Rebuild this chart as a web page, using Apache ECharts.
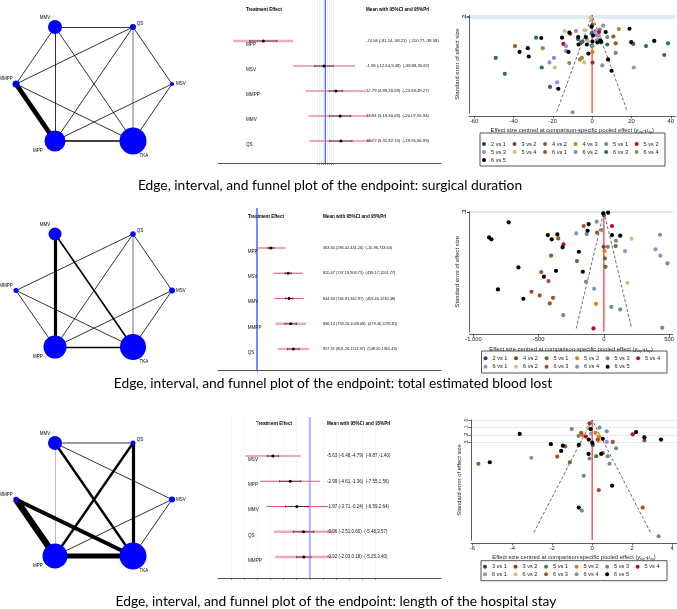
<!DOCTYPE html>
<html>
<head>
<meta charset="utf-8">
<script src="https://cdn.jsdelivr.net/npm/echarts@6/dist/echarts.min.js"></script>
<style>
html, body { margin: 0; padding: 0; background: #fff; }
#main { width: 677px; height: 609px; }
</style>
</head>
<body>
<div id="main"></div>
<script>
// ---------- network plots ----------
// hexagon order, starting on the right and going clockwise on screen
var TREATMENTS = ['MSV', 'TKA', 'MPP', 'MMPP', 'MMV', 'QS'];
var NODE_SIZE_1 = [4, 27, 21, 7, 14, 6];
var NODE_SIZE_2 = [6, 26, 23, 5, 13, 5.5];
var NODE_SIZE_3 = [6, 27, 25, 5.5, 14, 5];

var EDGES_1 = [['MMV', 'QS', 1], ['MMV', 'MMPP', 1], ['MMV', 'MPP', 1], ['MMV', 'TKA', 1], ['QS', 'MMPP', 1], ['QS', 'MPP', 1],
    ['QS', 'TKA', 2], ['QS', 'MSV', 1], ['MMPP', 'MPP', 6], ['MMPP', 'TKA', 1], ['MSV', 'MPP', 1], ['MSV', 'TKA', 1], ['MPP', 'TKA', 2]];
var EDGES_2 = [['MMV', 'MPP', 4], ['MMV', 'TKA', 2], ['QS', 'MMPP', 1], ['QS', 'MPP', 1], ['QS', 'TKA', 2], ['QS', 'MSV', 1],
    ['MMPP', 'MPP', 1], ['MMPP', 'TKA', 1], ['MSV', 'MPP', 1], ['MSV', 'TKA', 1], ['MPP', 'TKA', 2]];
var EDGES_3 = [['MMV', 'QS', 1], ['MMV', 'MPP', 1], ['MMV', 'TKA', 3], ['MMV', 'MSV', 1], ['QS', 'MPP', 3], ['QS', 'TKA', 4],
    ['MMPP', 'MPP', 8], ['MMPP', 'TKA', 5], ['MSV', 'MPP', 1], ['MSV', 'TKA', 1], ['MPP', 'TKA', 6]];

// ---------- interval plots ----------
var FOREST_NAMES_1 = ['MPP', 'MSV', 'MMPP', 'MMV', 'QS'];
var FOREST_MEAN_1 = [-74.66, -1.58, 12.79, 17.94, 18.72];
var FOREST_CI_LO_1 = [-91.14, -12.64, 4.89, 5.19, 5.31];
var FOREST_CI_HI_1 = [-58.21, 9.48, 20.69, 30.69, 32.13];
var FOREST_PI_LO_1 = [-110.77, -38.98, -23.69, -20.07, -19.55];
var FOREST_PI_HI_1 = [-38.58, 35.82, 49.27, 55.94, 56.99];

var FOREST_NAMES_2 = ['MPP', 'MSV', 'MMV', 'MMPP', 'QS'];
var FOREST_MEAN_2 = [363.84, 820.47, 844.94, 886.14, 957.31];
var FOREST_CI_LO_2 = [286.42, 737.19, 746.91, 733.20, 801.26];
var FOREST_CI_HI_2 = [441.26, 903.75, 942.97, 1039.08, 1113.37];
var FOREST_PI_LO_2 = [-15.96, 439.17, 459.40, 479.46, 549.20];
var FOREST_PI_HI_2 = [743.64, 1201.77, 1230.48, 1292.81, 1365.43];

var FOREST_NAMES_3 = ['MSV', 'MPP', 'MMV', 'QS', 'MMPP'];
var FOREST_MEAN_3 = [-5.63, -2.99, -1.97, -0.96, -0.92];
var FOREST_CI_LO_3 = [-6.48, -4.61, -3.71, -2.51, -2.03];
var FOREST_CI_HI_3 = [-4.79, -1.36, -0.24, 0.60, 0.18];
var FOREST_PI_LO_3 = [-9.87, -7.55, -6.59, -5.48, -5.25];
var FOREST_PI_HI_3 = [-1.40, 1.56, 2.64, 3.57, 3.40];

// ---------- funnel plots ----------
var FUNNEL_COMPS_1 = ['2 vs 1', '3 vs 2', '4 vs 2', '4 vs 3', '5 vs 1', '5 vs 2', '5 vs 3', '5 vs 4', '6 vs 1', '6 vs 2', '6 vs 3', '6 vs 4', '6 vs 5'];
var FUNNEL_PTS_1 = [
    [[-0.2, 2.9]],
    [[0.2, 4.5]],
    [[0.2, 0.9]],
    [[0.2, 3.5]],
    [[3.9, 1.36], [7.7, 2.07], [12.0, 3.58]],
    [[-14.6, 2.73], [3.5, 1.59]],
    [[-21.7, 4.49], [-19.4, 4.06], [-17.8, 6.39], [-13.3, 2.93], [-13.3, 3.41], [-9.9, 9.23], [-8.2, 1.5], [-2.7, 2.3],
        [1.5, 1.5], [2.2, 1.88], [2.4, 2.36], [3.5, 1.99], [5.6, 0.99], [21.2, 4.97]],
    [[-19.0, 4.97], [-14.0, 1.5], [-4.0, 4.49], [-3.9, 1.42], [-2.0, 2.5], [-0.7, 0.23], [4.0, 2.22]],
    [[-39.2, 2.93], [-11.1, 1.76], [-5.7, 2.59], [10.8, 2.02], [12.0, 2.67]],
    [[0.2, 2.93], [5.2, 4.77]],
    [[-49.0, 4.06], [-44.4, 5.57], [-28.5, 2.13], [-25.6, 4.97], [-21.4, 6.82], [-7.1, 2.27], [-4.9, 2.5], [-0.2, 1.7],
        [4.7, 2.59], [7.7, 2.78], [20.9, 2.73], [27.4, 2.93], [36.7, 3.78], [38.6, 2.67]],
    [[-25.1, 3.13], [-11.6, 4.55], [-6.2, 4.2], [-5.2, 4.06], [13.6, 1.31]],
    [[-36.9, 3.49], [-32.7, 3.13], [-32.2, 3.92], [-25.9, 2.16], [-17.2, 6.99], [-15.3, 2.13], [-12.0, 3.49], [-11.6, 1.65],
        [-7.1, 2.07], [-6.9, 2.78], [-3.2, 2.07], [-2.7, 2.78], [-1.9, 3.64], [-0.3, 1.08], [0.2, 2.5], [0.5, 1.93],
        [2.7, 2.59], [4.2, 2.41], [4.5, 2.5], [6.9, 1.59], [8.1, 4.2], [9.9, 5.28], [19.0, 1.28], [19.9, 2.56], [31.6, 2.44]]
];

var FUNNEL_COMPS_2 = ['2 vs 1', '4 vs 2', '5 vs 1', '5 vs 2', '5 vs 3', '5 vs 4', '6 vs 1', '6 vs 2', '6 vs 3', '6 vs 4', '6 vs 5'];
var FUNNEL_PTS_2 = [
    [[0, 3.1]],
    [[-2, 32.6]],
    [[-207, 45.9], [7, 43.4], [12, 51.2], [90, 31.9]],
    [[-60, 85.6], [5, 36.6]],
    [[-312, 96.1], [-132, 20.8], [-137, 65.1], [-17, 17], [30, 32.6], [57, 88.4], [92, 27], [125, 90.8], [447, 107.9], [487, 48]],
    [[-310, 30.4], [-80, 108.5], [62, 13.3]],
    [[-212, 20.2], [162, 36.6], [395, 35], [432, 40.9]],
    [[0, 1.6], [180, 66], [212, 25.1]],
    [[-555, 74.4], [-492, 77.8], [-480, 56.1], [-425, 64.5], [-415, 85.2], [-405, 40.9], [-390, 80], [-350, 24.8], [-155, 13.3], [-52, 19.5]],
    [[-75, 71.6], [-55, 9.3], [430, 21.4]],
    [[-880, 23.9], [-862, 25.7], [-812, 72.2], [-730, 9.9], [-655, 51.8], [-617, 80.9], [-460, 60.4], [-430, 21.7], [-400, 25.7],
        [-367, 54.9], [-357, 21.1], [-317, 33.2], [-192, 37.2], [-162, 55.8], [-117, 11.5], [-125, 17.7], [-5, 1.6], [32, 0.9],
        [62, 21.7], [125, 22.3]]
];

var FUNNEL_COMPS_3 = ['3 vs 1', '3 vs 2', '5 vs 1', '5 vs 2', '5 vs 3', '5 vs 4', '6 vs 1', '6 vs 2', '6 vs 3', '6 vs 4', '6 vs 5'];
var FUNNEL_PTS_3 = [
    [[0.03, 0.33]],
    [[-0.13, 0.044]],
    [[-1.12, 0.56], [0.2, 0.48]],
    [[-0.5, 0.2], [0.17, 0.17], [0.33, 0.22]],
    [[-1.02, 0.12], [-0.52, 1.2], [-0.42, 0.74], [-0.68, 0.21], [-0.13, 0.51], [0.78, 0.48], [0.87, 0.58], [1.2, 0.375], [3.33, 1.54]],
    [[-0.32, 0.22], [2.03, 0.19]],
    [[-3.05, 0.5], [-0.05, 0.18], [0.73, 0.29]],
    [[0.33, 0.28], [-0.2, 0.1]],
    [[-5.7, 0.58], [-1.75, 0.485], [-1.35, 0.35], [-0.55, 0.17], [0.28, 0.26], [0.33, 0.93], [0.53, 0.44], [1.03, 0.29],
        [2.53, 1.16], [2.62, 0.27]],
    [[0.37, 0.1], [0.73, 0.15]],
    [[-5.13, 0.56], [-3.63, 0.185], [-2.07, 0.32], [-1.55, 0.41], [-1.47, 0.34], [-0.67, 1.16], [-0.67, 0.33], [-0.18, 0.45],
        [-0.08, 0.12], [-0.17, 0.26], [0, 0.3], [0.45, 0.45], [0.53, 0.25], [1.0, 0.87], [2.2, 0.16], [2.62, 0.23], [3.45, 0.26]]
];

var SE_TICKS = [0, 0.1, 0.2, 0.3];
var CAPTIONS = [
    'Edge, interval, and funnel plot of the endpoint: surgical duration',
    'Edge, interval, and funnel plot of the endpoint: total estimated blood lost',
    'Edge, interval, and funnel plot of the endpoint: length of the hospital stay'
];

// styles
var PALETTE = ['#1a476f', '#90353b', '#55752f', '#e37e00', '#6e8e84', '#c10534', '#938dd2', '#cac27e',
    '#a0522d', '#7b92a8', '#2d6d66', '#9c8847'];
var FONT = '"Liberation Sans", Arial, sans-serif';
var LABEL_OFFSET = { MMV: [-10, -9], QS: [7, -3], MSV: [9, 0], MMPP: [-10, -5], MPP: [-17, 10], TKA: [11, 15] };

var LAYOUT = [{
    net: [16, 27, 156, 114], grey: ['QS-TKA'],
    forest: { top: 0, height: 163, xMin: -129.3, xMax: 139.4, yMin: -0.64, yMax: 5.88,
        ticks: [-10, -7.5, -5, -2.5, 0, 2.5, 5, 7.5, 10], split: '#dcebf0', blue: '#4f66ff', blueW: 1.3,
        headY: 10, headX: [246, 366], labX: 28, valX: 148, valFont: 4.2, faint: [1, 0, 0, 0, 0] },
    funnel: { left: 469, top: 4, width: 208, height: 109, xMin: -62.6, xMax: 42.4,
        xTicks: [-60, -40, -20, 0, 20, 40], yMax: 9.3, se: 9.15 },
    legendRows: [144, 152, 160], legendBox: [480, 133, 185, 33], caption: [330, 186]
}, {
    net: [16, 234, 156, 113], grey: ['QS-TKA'],
    forest: { top: 208, height: 162.7, xMin: -1026, xMax: 4842, yMin: -0.584, yMax: 5.86,
        ticks: [0], split: null, blue: '#3050ff', blueW: 1.3,
        headY: 217, headX: [248, 323], labX: 29.7, valX: 105, valFont: 3.9, faint: [0, 0, 0, 1, 1] },
    funnel: { left: 469.5, top: 211.7, width: 207.5, height: 120, xMin: -1030, xMax: 527,
        xTicks: [-1000, -500, 0, 500], yMax: 111.5, se: 108.5 },
    legendRows: [358.3, 366.7], legendBox: [481.5, 351, 185.5, 22], caption: [333, 384]
}, {
    net: [16, 443, 156, 113], grey: ['MMV-MPP'],
    forest: { top: 417, height: 161, xMin: -14, xMax: 20, yMin: -0.545, yMax: 5.83,
        ticks: [-12, -10, -8, -6, -4, -2, 0, 2, 4, 6, 8, 10], split: '#eef2f4', blue: '#aeb3f3', blueW: 2,
        headY: 424, headX: [256, 327], labX: 30, valX: 109, valFont: 4.5, faint: [0, 0, 0, 1, 1] },
    funnel: { left: 471, top: 420, width: 206, height: 120, xMin: -6.07, xMax: 4.25,
        xTicks: [-6, -4, -2, 0, 2, 4], yMax: 1.59, se: 1.49 },
    legendRows: [566.7, 574.3], legendBox: [481, 560.7, 186, 20], caption: [336, 601.5]
}];

var option = {
    animation: false,
    backgroundColor: '#fff',
    textStyle: { fontFamily: FONT },
    grid: [], xAxis: [], yAxis: [], series: [], legend: [], graphic: []
};

function addNetwork(sizes, edges, lay) {
    // hexagon in pixel units so the view transform keeps a scale of about 1
    var rx = lay.net[2] / 2;
    var ry = lay.net[3] / 2 / Math.sin(Math.PI / 3);
    option.series.push({
        type: 'graph',
        layout: 'none',
        silent: true,
        left: lay.net[0], top: lay.net[1], width: lay.net[2], height: lay.net[3],
        data: TREATMENTS.map(function (t, i) {
            var a = i * Math.PI / 3;
            return {
                name: t,
                x: rx * Math.cos(a),
                y: ry * Math.sin(a),
                symbolSize: sizes[i],
                label: { show: true, position: 'inside', offset: LABEL_OFFSET[t], fontSize: 4.5, color: '#000' }
            };
        }),
        links: edges.map(function (e) {
            var grey = lay.grey.indexOf(e[0] + '-' + e[1]) >= 0;
            return {
                source: e[0], target: e[1],
                lineStyle: { width: e[2] * 0.8, color: grey ? '#a8a8a8' : '#000' }
            };
        }),
        itemStyle: { color: '#0000ff' },
        lineStyle: { opacity: 1, curveness: 0 }
    });
}

function addForest(gi, names, mean, ciLo, ciHi, piLo, piHi, lay) {
    var f = lay.forest;
    option.grid.push({ left: 218, top: f.top, width: 223, height: f.height });
    option.xAxis.push({
        gridIndex: gi, type: 'value', min: f.xMin, max: f.xMax,
        axisLine: { show: true, onZero: false, lineStyle: { color: '#555', width: 1 } },
        axisTick: { show: true, length: 2, customValues: f.ticks, lineStyle: { color: '#555', width: 0.6 } },
        axisLabel: { show: false },
        splitLine: { show: !!f.split, lineStyle: { color: f.split || '#fff', width: 0.6 } }
    });
    option.yAxis.push({ gridIndex: gi, type: 'value', inverse: true, min: f.yMin, max: f.yMax, show: false });

    // reference line at zero
    option.series.push({
        type: 'line', xAxisIndex: gi, yAxisIndex: gi, silent: true, symbol: 'none',
        data: [[0, f.yMin], [0, f.yMax]],
        lineStyle: { color: f.blue, width: f.blueW }, z: 1
    });

    option.series.push({
        type: 'custom', xAxisIndex: gi, yAxisIndex: gi, silent: true, z: 3,
        data: names.map(function (n, i) { return [mean[i], i + 1, ciLo[i], ciHi[i], piLo[i], piHi[i], i]; }),
        encode: { x: [0, 2, 3, 4, 5], y: 1 },
        renderItem: function (params, api) {
            var k = api.value(6);
            var y = api.coord([0, api.value(1)])[1];
            var xm = api.coord([api.value(0), 0])[0];
            var c1 = api.coord([api.value(2), 0])[0], c2 = api.coord([api.value(3), 0])[0];
            var p1 = api.coord([api.value(4), 0])[0], p2 = api.coord([api.value(5), 0])[0];
            var gx = params.coordSys.x;
            var faint = f.faint[k];
            var txt = mean[k].toFixed(2) + ' (' + ciLo[k].toFixed(2) + ',' + ciHi[k].toFixed(2) + ')  (' +
                piLo[k].toFixed(2) + ',' + piHi[k].toFixed(2) + ')';
            return {
                type: 'group',
                children: [
                    { type: 'line', shape: { x1: p1, y1: y, x2: p2, y2: y },
                        style: { stroke: faint ? '#f2a7ba' : '#e0567f', lineWidth: faint ? 2.4 : 1.1 } },
                    { type: 'line', shape: { x1: c1, y1: y, x2: c2, y2: y }, style: { stroke: '#222', lineWidth: 0.7 } },
                    { type: 'line', shape: { x1: c1, y1: y - 1.2, x2: c1, y2: y + 1.2 }, style: { stroke: '#222', lineWidth: 0.6 } },
                    { type: 'line', shape: { x1: c2, y1: y - 1.2, x2: c2, y2: y + 1.2 }, style: { stroke: '#222', lineWidth: 0.6 } },
                    { type: 'circle', shape: { cx: xm, cy: y, r: 1.5 }, style: { fill: '#000' } },
                    { type: 'text', style: { text: names[k], x: gx + f.labX, y: y + 3.5, fill: '#111',
                        fontSize: 4.6, fontFamily: FONT, verticalAlign: 'middle', align: 'left' } },
                    { type: 'text', style: { text: txt, x: gx + f.valX, y: y, fill: '#111',
                        fontSize: f.valFont, fontFamily: FONT, verticalAlign: 'middle', align: 'left' } }
                ]
            };
        }
    });

    option.graphic.push(
        { type: 'text', silent: true, style: { text: 'Treatment Effect', x: f.headX[0], y: f.headY, fill: '#000',
            font: 'bold 4.6px ' + FONT, verticalAlign: 'middle', textVerticalAlign: 'middle' } },
        { type: 'text', silent: true, style: { text: 'Mean with 95%CI and 95%PrI', x: f.headX[1], y: f.headY, fill: '#000',
            font: 'bold 4.6px ' + FONT, verticalAlign: 'middle', textVerticalAlign: 'middle' } }
    );
}

function addFunnel(gi, row, comps, pts, lay) {
    var f = lay.funnel;
    var prefix = row + ':';
    option.grid.push({ left: f.left, top: f.top, width: f.width, height: f.height });
    option.xAxis.push({
        gridIndex: gi, type: 'value', min: f.xMin, max: f.xMax, offset: 3,
        axisLine: { show: true, onZero: false, lineStyle: { color: '#333', width: 0.8 } },
        axisTick: { show: true, length: 2.5, customValues: f.xTicks, lineStyle: { color: '#333', width: 0.7 } },
        axisLabel: { customValues: f.xTicks, fontSize: 5.8, margin: 2, color: '#222' },
        splitLine: { show: false },
        name: 'Effect size centred at comparison-specific pooled effect ({i|y}{s|ixy}{i|-μ}{s|xy})',
        nameLocation: 'middle', nameGap: 11,
        nameTextStyle: { fontSize: 5.8, color: '#222',
            rich: { i: { fontSize: 5.8, fontStyle: 'italic', color: '#222' },
                s: { fontSize: 3.8, fontStyle: 'italic', color: '#222', padding: [3, 0, 0, 0] } } }
    });
    option.yAxis.push({
        gridIndex: gi, type: 'value', inverse: true, min: 0, max: f.yMax,
        axisLine: { show: true, onZero: false, lineStyle: { color: '#333', width: 0.8 } },
        axisTick: { show: true, length: 2.5, customValues: SE_TICKS, lineStyle: { color: '#333', width: 0.7 } },
        axisLabel: { customValues: SE_TICKS, rotate: 90, fontSize: 5.5, margin: 2, color: '#222',
            formatter: function (v) { return v === 0 ? '0' : String(v).replace(/^0/, ''); } },
        splitLine: { show: true, lineStyle: { color: '#d8e7ee', width: 0.8 } },
        name: 'Standard error of effect size', nameLocation: 'middle', nameGap: 9, nameRotate: 90,
        nameTextStyle: { fontSize: 5.8, color: '#222' }
    });

    // pseudo 95% limits and zero line
    option.series.push({
        type: 'line', xAxisIndex: gi, yAxisIndex: gi, silent: true, symbol: 'none',
        data: [[-1.96 * f.se, f.se], [0, 0], [1.96 * f.se, f.se]],
        lineStyle: { color: '#444', width: 0.8, type: [3, 2] }
    });
    option.series.push({
        type: 'line', xAxisIndex: gi, yAxisIndex: gi, silent: true, symbol: 'none', z: 1,
        data: [[0, 0], [0, f.yMax]],
        lineStyle: { color: '#ff3030', width: 1.2 }
    });

    comps.forEach(function (c, i) {
        option.series.push({
            type: 'scatter', name: prefix + c, xAxisIndex: gi, yAxisIndex: gi, silent: true,
            data: pts[i], symbolSize: 4.2, z: 4,
            itemStyle: { color: i === comps.length - 1 ? '#000' : PALETTE[i], opacity: 1 }
        });
    });

    // legend, six keys per line
    lay.legendRows.forEach(function (y, r) {
        option.legend.push({
            data: comps.slice(r * 6, r * 6 + 6).map(function (c) { return prefix + c; }),
            left: lay.legendBox[0] + 2, top: y - 3, orient: 'horizontal', padding: 0,
            icon: 'circle', itemWidth: 4, itemHeight: 4, itemGap: 6.6, selectedMode: false,
            textStyle: { fontSize: 5.6, color: '#222', fontFamily: FONT },
            formatter: function (n) { return n.slice(prefix.length); }
        });
    });
    var b = lay.legendBox;
    option.graphic.push({ type: 'rect', silent: true, shape: { x: b[0], y: b[1], width: b[2], height: b[3] },
        style: { fill: 'none', stroke: '#555', lineWidth: 1 } });
}

var NETS = [[NODE_SIZE_1, EDGES_1], [NODE_SIZE_2, EDGES_2], [NODE_SIZE_3, EDGES_3]];
var FORESTS = [
    [FOREST_NAMES_1, FOREST_MEAN_1, FOREST_CI_LO_1, FOREST_CI_HI_1, FOREST_PI_LO_1, FOREST_PI_HI_1],
    [FOREST_NAMES_2, FOREST_MEAN_2, FOREST_CI_LO_2, FOREST_CI_HI_2, FOREST_PI_LO_2, FOREST_PI_HI_2],
    [FOREST_NAMES_3, FOREST_MEAN_3, FOREST_CI_LO_3, FOREST_CI_HI_3, FOREST_PI_LO_3, FOREST_PI_HI_3]
];
var FUNNELS = [[FUNNEL_COMPS_1, FUNNEL_PTS_1], [FUNNEL_COMPS_2, FUNNEL_PTS_2], [FUNNEL_COMPS_3, FUNNEL_PTS_3]];

for (var r = 0; r < 3; r++) {
    var lay = LAYOUT[r];
    addNetwork(NETS[r][0], NETS[r][1], lay);
    var fd = FORESTS[r];
    addForest(r * 2, fd[0], fd[1], fd[2], fd[3], fd[4], fd[5], lay);
    addFunnel(r * 2 + 1, r + 1, FUNNELS[r][0], FUNNELS[r][1], lay);
    option.graphic.push({ type: 'text', silent: true,
        style: { text: CAPTIONS[r], x: lay.caption[0], y: lay.caption[1], fill: '#000',
            font: '13.8px Lato, "Open Sans", sans-serif', align: 'center', verticalAlign: 'middle',
            textAlign: 'center', textVerticalAlign: 'middle' } });
}

var myChart = echarts.init(document.getElementById('main'));
myChart.setOption(option);
</script>
</body>
</html>
